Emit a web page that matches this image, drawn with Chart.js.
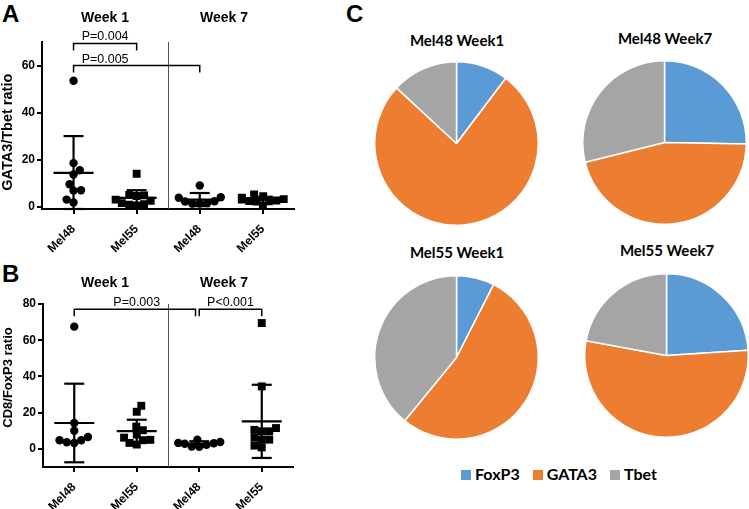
<!DOCTYPE html>
<html>
<head>
<meta charset="utf-8">
<script src="https://cdn.jsdelivr.net/npm/chart.js@4.4.1/dist/chart.umd.min.js"></script>
<style>
  body { margin: 0; width: 749px; height: 509px; position: relative; overflow: hidden; background: #fff;
         font-family: "Liberation Sans", Arial, sans-serif; color: #000; }
  canvas, .abs { position: absolute; }
  .letter { font-weight: bold; font-size: 24px; line-height: 1; }
  .week { font-weight: bold; font-size: 14px; line-height: 1; width: 100px; text-align: center; }
  .ytitle { font-weight: bold; line-height: 1; width: 200px; text-align: center; transform: rotate(-90deg); }
  .pietitle { font-family: Lato, sans-serif; font-weight: bold; font-size: 15px; line-height: 1; width: 160px; text-align: center; }
  #legend { font-family: Lato, sans-serif; font-weight: bold; font-size: 16px; line-height: 1; white-space: nowrap; }
  #legend span.sw { display: inline-block; width: 10px; height: 10px; margin-right: 4px; }
  #legend span.item { margin-right: 13px; }
</style>
</head>
<body>
<div class="abs letter" style="left:2px;top:2px">A</div>
<div class="abs letter" style="left:2px;top:262px">B</div>
<div class="abs letter" style="left:346px;top:2px">C</div>

<canvas id="chartA" width="300" height="264" style="left:0;top:0"></canvas>
<canvas id="chartB" width="300" height="259" style="left:0;top:250px"></canvas>

<div class="abs week" style="left:55px;top:10px">Week 1</div>
<div class="abs week" style="left:174px;top:10px">Week 7</div>
<div class="abs week" style="left:55px;top:275px">Week 1</div>
<div class="abs week" style="left:174px;top:275px">Week 7</div>
<div class="abs ytitle" style="left:-93px;top:125px;font-size:14.5px">GATA3/Tbet ratio</div>
<div class="abs ytitle" style="left:-93px;top:371px;font-size:13px">CD8/FoxP3 ratio</div>

<canvas id="pie1" width="165" height="165" style="left:374px;top:61px"></canvas>
<canvas id="pie2" width="165" height="165" style="left:582px;top:60px"></canvas>
<canvas id="pie3" width="165" height="165" style="left:374px;top:275px"></canvas>
<canvas id="pie4" width="165" height="165" style="left:584px;top:273px"></canvas>
<div class="abs pietitle" style="left:377px;top:33px">Mel48 Week1</div>
<div class="abs pietitle" style="left:585px;top:31px">Mel48 Week7</div>
<div class="abs pietitle" style="left:377px;top:245px">Mel55 Week1</div>
<div class="abs pietitle" style="left:587px;top:243px">Mel55 Week7</div>
<div class="abs" id="legend" style="left:461px;top:466px"></div>

<script>
// Scatter panels: groups along the x axis
const groupLabels = ['Mel48', 'Mel55', 'Mel48', 'Mel55'];

// Panel A - GATA3/Tbet ratio (Mel48 W1, Mel55 W1, Mel48 W7, Mel55 W7)
const gataMel48W1 = [53.5, 18.5, 15.5, 13.7, 9.5, 7.0, 6.8, 3.0, 1.8];
const gataMel55W1 = [14.0, 5.0, 4.8, 4.5, 3.0, 2.5, 1.5, 1.0, 0.8, 0.5];
const gataMel48W7 = [9.0, 4.0, 3.8, 2.3, 2.2, 1.5, 1.3, 1.3];
const gataMel55W7 = [5.2, 4.4, 3.8, 3.2, 3.0, 2.6, 2.4, 2.3, 2.2, 0.4];
const gataMean = [14.4, 3.7, 3.0, 2.9];
const gataSD = [15.6, 3.3, 2.8, 1.3];

// Panel B - CD8/FoxP3 ratio
const cd8Mel48W1 = [67.5, 14.3, 10.0, 6.6, 4.8, 4.8, 3.7, 3.3];
const cd8Mel55W1 = [23.8, 20.5, 12.3, 10.3, 7.9, 6.2, 5.0, 4.8, 3.3, 2.4];
const cd8Mel48W7 = [5.1, 3.8, 3.3, 3.1, 2.8, 2.2, 1.3, 1.1];
const cd8Mel55W7 = [69.5, 34.5, 11.5, 10.5, 9.7, 9.7, 6.2, 5.1, 5.1, 1.8, 0.8];
const cd8Mean = [14.3, 9.8, 2.8, 15.2];
const cd8SD = [21.7, 6.3, 1.4, 20.2];

// Significance brackets: from group, to group, height, label
const gataBrackets = [
  { from: 0, to: 1, y: 69.4, labelX: 0.5, text: 'P=0.004' },
  { from: 0, to: 2, y: 60.0, labelX: 0.5, text: 'P=0.005' }
];
const cd8Brackets = [
  { from: 0, to: 1.94, y: 77.1, labelX: 1.0, text: 'P=0.003' },
  { from: 2, to: 3, y: 77.1, labelX: 2.5, text: 'P<0.001' }
];

// Panel C - pies
const markers = ['FoxP3', 'GATA3', 'Tbet'];
const markerColors = ['#5B9BD5', '#ED7D31', '#A5A5A5'];
const pieMel48W1 = [10.3, 76.6, 13.1];
const pieMel48W7 = [25.3, 45.8, 28.9];
const pieMel55W1 = [7.5, 53.4, 39.1];
const pieMel55W7 = [24.0, 53.9, 22.1];

const FONT = 'Liberation Sans';

// spread the points of each group sideways (Prism style scatter)
function swarm(chart, diam, maxOff) {
  const xs = chart.scales.x;
  chart.data.datasets.forEach((ds, g) => {
    const els = chart.getDatasetMeta(g).data;
    const cx = xs.getPixelForValue(g);
    const order = els.map((e, i) => i).sort((a, b) => els[b].y - els[a].y);
    const placed = [];
    let lastSign = 1;
    order.forEach(i => {
      const py = els[i].y;
      const near = placed.filter(p => Math.abs(p.y - py) < diam);
      const cands = [0];
      near.forEach(p => {
        const d = Math.sqrt(diam * diam - (p.y - py) ** 2);
        cands.push(p.off - d, p.off + d);
      });
      let ok = cands.filter(c => near.every(p => (c - p.off) ** 2 + (p.y - py) ** 2 >= diam * diam - 0.01));
      ok.sort((a, b) => {
        if (Math.abs(Math.abs(a) - Math.abs(b)) < 0.5) return Math.sign(a) === lastSign ? 1 : -1;
        return Math.abs(a) - Math.abs(b);
      });
      let off = ok[0];
      off = Math.max(-maxOff, Math.min(maxOff, off));
      if (off !== 0) lastSign = Math.sign(off);
      placed.push({ y: py, off });
      els[i].x = cx + off;
    });
  });
}

const prismPlugin = {
  id: 'prism',
  beforeDatasetsDraw(chart) {
    swarm(chart, 7.5, 21);
  },
  afterDatasetsDraw(chart, args, opts) {
    const { ctx, chartArea } = chart;
    const x = chart.scales.x, y = chart.scales.y;
    const line = (x1, y1, x2, y2) => { ctx.beginPath(); ctx.moveTo(x1, y1); ctx.lineTo(x2, y2); ctx.stroke(); };
    ctx.save();
    // week divider
    ctx.strokeStyle = '#555';
    ctx.lineWidth = 1;
    const xd = Math.round(x.getPixelForValue(1.5)) + 0.5;
    line(xd, chartArea.top, xd, chartArea.bottom);
    // mean +/- SD
    ctx.strokeStyle = '#000';
    ctx.lineWidth = 2.2;
    opts.means.forEach((m, g) => {
      const cx = x.getPixelForValue(g);
      const ym = y.getPixelForValue(m);
      const hi = y.getPixelForValue(m + opts.sds[g]);
      const lo = y.getPixelForValue(Math.max(m - opts.sds[g], y.min));
      line(cx - 20, ym, cx + 20, ym);
      line(cx, hi, cx, lo);
      line(cx - 10, hi, cx + 10, hi);
      line(cx - 10, lo, cx + 10, lo);
    });
    // brackets
    ctx.lineWidth = 1.5;
    ctx.fillStyle = '#000';
    ctx.font = '12.5px "' + FONT + '"';
    ctx.textAlign = 'center';
    ctx.textBaseline = 'alphabetic';
    opts.brackets.forEach(b => {
      const x1 = x.getPixelForValue(b.from), x2 = x.getPixelForValue(b.to);
      const yb = y.getPixelForValue(b.y);
      ctx.beginPath();
      ctx.moveTo(x1, yb + 7);
      ctx.lineTo(x1, yb);
      ctx.lineTo(x2, yb);
      ctx.lineTo(x2, yb + 7);
      ctx.stroke();
      ctx.fillText(b.text, x.getPixelForValue(b.labelX), yb - 3);
    });
    ctx.restore();
  }
};

function scatterPanel(id, groups, means, sds, brackets, yMin, yMax, yTicks, box) {
  return new Chart(document.getElementById(id), {
    type: 'scatter',
    data: {
      datasets: groups.map((vals, g) => ({
        data: vals.map(v => ({ x: g, y: v })),
        pointStyle: g % 2 === 0 ? 'circle' : 'rect',
        pointRadius: g % 2 === 0 ? 4.2 : 5.6,
        backgroundColor: '#000',
        borderWidth: 0
      }))
    },
    options: {
      responsive: false,
      animation: false,
      events: [],
      layout: { padding: { top: box.top, right: box.right, left: 0, bottom: 0 } },
      plugins: {
        legend: { display: false },
        tooltip: { enabled: false },
        prism: { means, sds, brackets }
      },
      scales: {
        x: {
          type: 'linear',
          min: -0.5,
          max: 3.5,
          afterBuildTicks: s => { s.ticks = groupLabels.map((_, i) => ({ value: i })); },
          afterFit: s => { s.height = box.xHeight; },
          ticks: {
            callback: v => groupLabels[v],
            minRotation: 45,
            maxRotation: 45,
            color: '#000',
            padding: 8,
            font: { family: FONT, size: 12, weight: 'bold' }
          },
          grid: { drawOnChartArea: false, tickLength: 5, color: '#000', lineWidth: 2 },
          border: { color: '#000', width: 2 }
        },
        y: {
          min: yMin,
          max: yMax,
          afterBuildTicks: s => { s.ticks = yTicks.map(v => ({ value: v })); },
          afterFit: s => { s.width = box.yWidth; },
          ticks: {
            color: '#000',
            padding: 2,
            font: { family: FONT, size: 12, weight: 'bold' }
          },
          grid: { drawOnChartArea: false, tickLength: 5, color: '#000', lineWidth: 2 },
          border: { color: '#000', width: 2 }
        }
      }
    },
    plugins: [prismPlugin]
  });
}

scatterPanel('chartA', [gataMel48W1, gataMel55W1, gataMel48W7, gataMel55W7], gataMean, gataSD,
  gataBrackets, -1, 70, [0, 20, 40, 60], { top: 42, right: 5, xHeight: 55, yWidth: 42 });
scatterPanel('chartB', [cd8Mel48W1, cd8Mel55W1, cd8Mel48W7, cd8Mel55W7], cd8Mean, cd8SD,
  cd8Brackets, -10, 80, [0, 20, 40, 60, 80], { top: 54, right: 7, xHeight: 42, yWidth: 43 });

function piePanel(id, values) {
  return new Chart(document.getElementById(id), {
    type: 'pie',
    data: {
      labels: markers,
      datasets: [{ data: values, backgroundColor: markerColors, borderColor: '#fff', borderWidth: 1.5 }]
    },
    options: {
      responsive: false,
      animation: false,
      events: [],
      layout: { padding: 0 },
      plugins: { legend: { display: false }, tooltip: { enabled: false } }
    }
  });
}
piePanel('pie1', pieMel48W1);
piePanel('pie2', pieMel48W7);
piePanel('pie3', pieMel55W1);
piePanel('pie4', pieMel55W7);

// shared legend for the pies
document.getElementById('legend').innerHTML = markers.map((m, i) =>
  '<span class="item"><span class="sw" style="background:' + markerColors[i] + '"></span>' + m + '</span>'
).join('');
</script>
</body>
</html>
